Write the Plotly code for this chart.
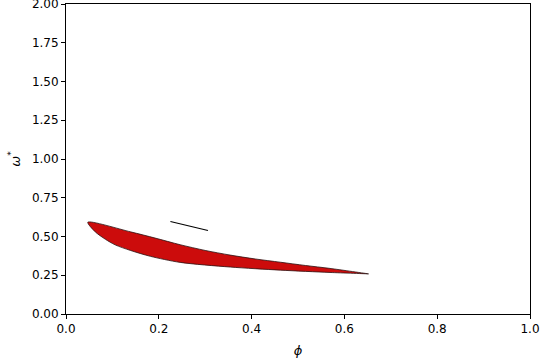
import plotly.graph_objects as go

# Upper boundary of red region (phi, omega*)
upper_phi = [0.047, 0.139, 0.192, 0.246, 0.300, 0.354, 0.408, 0.462, 0.516, 0.569, 0.652]
upper_omega = [0.592, 0.530, 0.490, 0.447, 0.410, 0.380, 0.355, 0.334, 0.313, 0.294, 0.259]
# Lower boundary of red region
lower_phi = [0.047, 0.063, 0.085, 0.106, 0.139, 0.182, 0.246, 0.354, 0.462, 0.569, 0.652]
lower_omega = [0.592, 0.530, 0.482, 0.446, 0.410, 0.372, 0.333, 0.303, 0.283, 0.268, 0.259]
# Short black segment
seg_phi = [0.225, 0.306]
seg_omega = [0.597, 0.539]

x_ticks = [0.0, 0.2, 0.4, 0.6, 0.8, 1.0]
x_tick_labels = ["0.0", "0.2", "0.4", "0.6", "0.8", "1.0"]
y_ticks = [0.0, 0.25, 0.5, 0.75, 1.0, 1.25, 1.5, 1.75, 2.0]
y_tick_labels = ["0.00", "0.25", "0.50", "0.75", "1.00", "1.25", "1.50", "1.75", "2.00"]

poly_x = upper_phi + lower_phi[::-1]
poly_y = upper_omega + lower_omega[::-1]

fig = go.Figure()
fig.add_trace(go.Scatter(x=poly_x, y=poly_y, mode="lines", fill="toself",
                         fillcolor="#cc0c0c",
                         line=dict(color="#2a1010", width=0.8, shape="spline", smoothing=0.8),
                         hoverinfo="skip", showlegend=False))
fig.add_trace(go.Scatter(x=seg_phi, y=seg_omega, mode="lines",
                         line=dict(color="black", width=1.2), showlegend=False))

axis_common = dict(showgrid=False, zeroline=False, showline=True, linecolor="black",
                   linewidth=1, mirror=True, ticks="outside", ticklen=4, tickwidth=1,
                   tickcolor="black", ticklabeloverflow="allow", automargin=False,
                   tickfont=dict(family="DejaVu Sans", size=12, color="black"))

fig.update_xaxes(range=[0, 1], tickvals=x_ticks, ticktext=x_tick_labels,
                 title=dict(text="<i>ϕ</i>", font=dict(family="DejaVu Sans", size=13, color="black"), standoff=10),
                 **axis_common)
fig.update_yaxes(range=[0, 2], tickvals=y_ticks, ticktext=y_tick_labels,
                 title=dict(text="<i>ω</i><sup>*</sup>", font=dict(family="DejaVu Sans", size=13, color="black"), standoff=8),
                 **axis_common)

fig.update_layout(width=540, height=360, margin=dict(l=66, r=10, t=4, b=46),
                  plot_bgcolor="white", paper_bgcolor="white")

fig.write_html("out.html", config={"displayModeBar": False},
               post_script="document.body.style.margin='0px';")
